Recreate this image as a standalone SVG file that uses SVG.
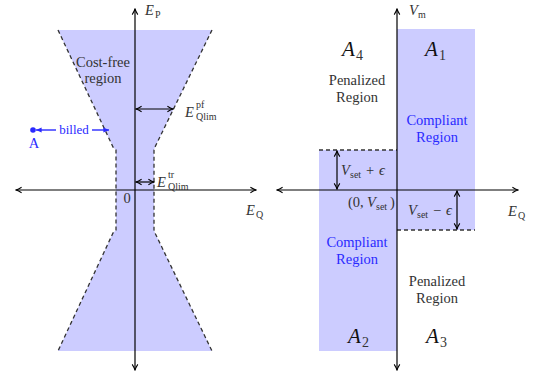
<svg xmlns="http://www.w3.org/2000/svg" width="536" height="381" viewBox="0 0 536 381" font-family="'Liberation Serif', 'DejaVu Serif', serif">
<defs>
<marker id="tip" viewBox="0 0 10 10" refX="9" refY="5" markerWidth="8" markerHeight="8" orient="auto-start-reverse" markerUnits="userSpaceOnUse">
<path d="M2,1.5 Q6,4 9,5 Q6,6 2,8.5" fill="none" stroke="#000" stroke-width="1.3"/>
</marker>
<marker id="btip" viewBox="0 0 10 10" refX="9" refY="5" markerWidth="7" markerHeight="7" orient="auto-start-reverse" markerUnits="userSpaceOnUse">
<path d="M1,1.5 L9,5 L1,8.5 Z" fill="#2a2aff"/>
</marker>
</defs>
<style>
.fill{fill:#ccccff;stroke:none}
.dash{fill:none;stroke:#333;stroke-width:1.3;stroke-dasharray:4 3}
.axis{fill:none;stroke:#000;stroke-width:1.2}
.dim{fill:none;stroke:#000;stroke-width:1.2}
text{font-family:'Liberation Serif','DejaVu Serif',serif}
.t{fill:#333}
.it{font-style:italic}
.b{fill:#2a2aff}
.big{font-size:21px;font-style:italic;fill:#111}
.m{font-size:14.5px}
.s{font-size:10px}
</style>

<g id="left-region">
<polygon class="fill" points="58,30 212,30 155,147 154,150 154,230 155,233 212,351 58,351 113,233 116,230 116,150 113,147"/>
<polyline class="dash" points="58,30 113,147 116,150 116,230 113,233 58,351"/>
<polyline class="dash" points="212,30 155,147 154,150 154,230 155,233 212,351"/>
</g>

<g id="right-regions">
<rect class="fill" x="397" y="29" width="78" height="201"/>
<rect class="fill" x="319" y="150" width="78" height="201"/>
<line class="dash" x1="319" y1="150" x2="397" y2="150"/>
<line class="dash" x1="397" y1="230" x2="475" y2="230"/>
</g>

<g id="connectors">
<line class="axis" x1="135" y1="370" x2="135" y2="9" marker-start="url(#tip)" marker-end="url(#tip)"/>
<line class="axis" x1="16" y1="190" x2="256" y2="190" marker-start="url(#tip)" marker-end="url(#tip)"/>
<line class="dim" x1="136" y1="109" x2="173" y2="109" marker-start="url(#tip)" marker-end="url(#tip)"/>
<line class="dim" x1="136" y1="182" x2="154" y2="182" marker-start="url(#tip)" marker-end="url(#tip)"/>
<line class="axis" x1="397" y1="370" x2="397" y2="9" marker-start="url(#tip)" marker-end="url(#tip)"/>
<line class="axis" x1="277" y1="190" x2="518" y2="190" marker-start="url(#tip)" marker-end="url(#tip)"/>
<line class="dim" x1="337" y1="151" x2="337" y2="189" marker-start="url(#tip)" marker-end="url(#tip)"/>
<line class="dim" x1="457" y1="191" x2="457" y2="229" marker-start="url(#tip)" marker-end="url(#tip)"/>
<line x1="56" y1="130" x2="36" y2="130" stroke="#2a2aff" stroke-width="1.4" marker-end="url(#btip)"/>
<line x1="92" y1="130" x2="109" y2="130" stroke="#2a2aff" stroke-width="1.4" marker-end="url(#btip)"/>
</g>

<g id="point-A">
<circle cx="33" cy="130" r="2.8" fill="#2a2aff"/>
<text class="t b m" x="34" y="148" text-anchor="middle">A</text>
<text class="t b" x="74" y="134" font-size="13" text-anchor="middle">billed</text>
</g>

<g id="left-labels">
<text class="t m" x="103" y="67" text-anchor="middle">Cost-free</text>
<text class="t m" x="103" y="83" text-anchor="middle">region</text>
<text class="t m it" x="145" y="15">E</text><text class="t s" x="155" y="18">P</text>
<text class="t m it" x="246" y="215">E</text><text class="t s" x="256" y="218">Q</text>
<text class="t m" x="127" y="203" text-anchor="middle">0</text>
<text class="t m it" x="185" y="117">E</text><text class="t s" x="196" y="108">pf</text><text class="t s" x="196" y="120">Qlim</text>
<text class="t m it" x="157" y="187">E</text><text class="t s" x="168" y="178">tr</text><text class="t s" x="168" y="190">Qlim</text>
</g>

<g id="right-labels">
<text class="t m it" x="409" y="15">V</text><text class="t s" x="418" y="18">m</text>
<text class="t m it" x="508" y="216">E</text><text class="t s" x="518" y="219">Q</text>
<text class="t big" x="342" y="56">A</text><text class="t" x="356" y="60" font-size="14" fill="#111">4</text>
<text class="t big" x="425" y="56">A</text><text class="t" x="439" y="60" font-size="14" fill="#111">1</text>
<text class="t big" x="348" y="343">A</text><text class="t" x="362" y="347" font-size="14" fill="#111">2</text>
<text class="t big" x="426" y="343">A</text><text class="t" x="440" y="347" font-size="14" fill="#111">3</text>
<text class="t m" x="357" y="85" text-anchor="middle">Penalized</text>
<text class="t m" x="357" y="102" text-anchor="middle">Region</text>
<text class="t m b" x="437" y="125" text-anchor="middle">Compliant</text>
<text class="t m b" x="437" y="142" text-anchor="middle">Region</text>
<text class="t m b" x="357" y="247" text-anchor="middle">Compliant</text>
<text class="t m b" x="357" y="264" text-anchor="middle">Region</text>
<text class="t m" x="437" y="286" text-anchor="middle">Penalized</text>
<text class="t m" x="437" y="303" text-anchor="middle">Region</text>
<text class="t m it" x="341" y="175">V</text><text class="t s" x="350" y="178">set</text><text class="t m" x="366" y="175">+</text><text class="t m it" x="379" y="175">ϵ</text>
<text class="t m" x="348" y="207">(0,</text><text class="t m it" x="367" y="207">V</text><text class="t s" x="376" y="210">set</text><text class="t m" x="390" y="207">)</text>
<text class="t m it" x="408" y="215">V</text><text class="t s" x="417" y="218">set</text><text class="t m" x="433" y="215">−</text><text class="t m it" x="446" y="215">ϵ</text>
</g>
</svg>
